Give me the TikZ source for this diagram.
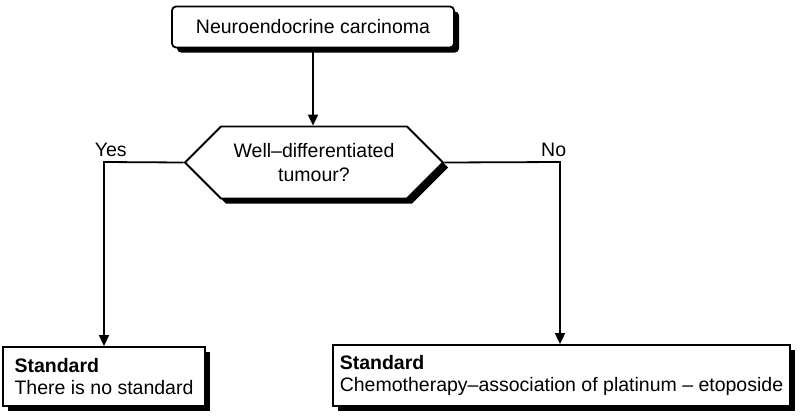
\documentclass[tikz,border=0pt]{standalone}
\usepackage{fontspec}
\setmainfont{Liberation Sans}
\usetikzlibrary{shapes.symbols,shadows,arrows.meta,positioning}

\begin{document}
\begin{tikzpicture}[x=1pt,y=-1pt,line width=1.8pt,
  every node/.style={font=\fontsize{19.5}{22}\selectfont},
  shadowed/.style={draw,fill=white,drop shadow={shadow xshift=5pt,shadow yshift=-5pt,opacity=1,fill=black}},
  topbox/.style={shadowed,rounded corners=4pt,minimum width=282pt,minimum height=41pt},
  hexbox/.style={shadowed,signal,signal to=west and east,signal pointer angle=90,minimum width=258pt,minimum height=72pt,align=center,inner sep=0pt},
  stdbox/.style={shadowed,align=left,inner sep=0pt},
  arr/.style={-{Triangle[length=11pt,width=10pt]}},
  lbl/.style={inner sep=0pt}]
\useasboundingbox (0,0) rectangle (802,416);
% boxes
\node[topbox] (nec) at (313,27) {Neuroendocrine carcinoma};
\node[hexbox] (wd) at (314,162.5) {Well--differentiated\\[2pt]tumour?};
\node[stdbox,minimum width=202pt,minimum height=59pt] (nostd) at (104,376.5) {\textbf{Standard}\\There is no standard};
\node[stdbox,minimum width=457pt,minimum height=61pt] (chemo) at (561.5,375.5) {\textbf{Standard}\\Chemotherapy--association of platinum -- etoposide};
% branch corners
\coordinate (yes) at (104,162);
\coordinate (no) at (560,162);
\node[lbl,anchor=south west] (yeslbl) at ([xshift=-10pt,yshift=4pt]yes) {Yes};
\node[lbl,anchor=south east] (nolbl) at ([xshift=7pt,yshift=4pt]no) {No};
% connectors
\draw[arr] (nec) -- (nec |- wd.north);
\draw[arr] (wd.west) -- (yes) -- (nostd.north);
\draw[arr] (wd.east) -- (no) -- (no |- chemo.north);
\end{tikzpicture}
\end{document}
